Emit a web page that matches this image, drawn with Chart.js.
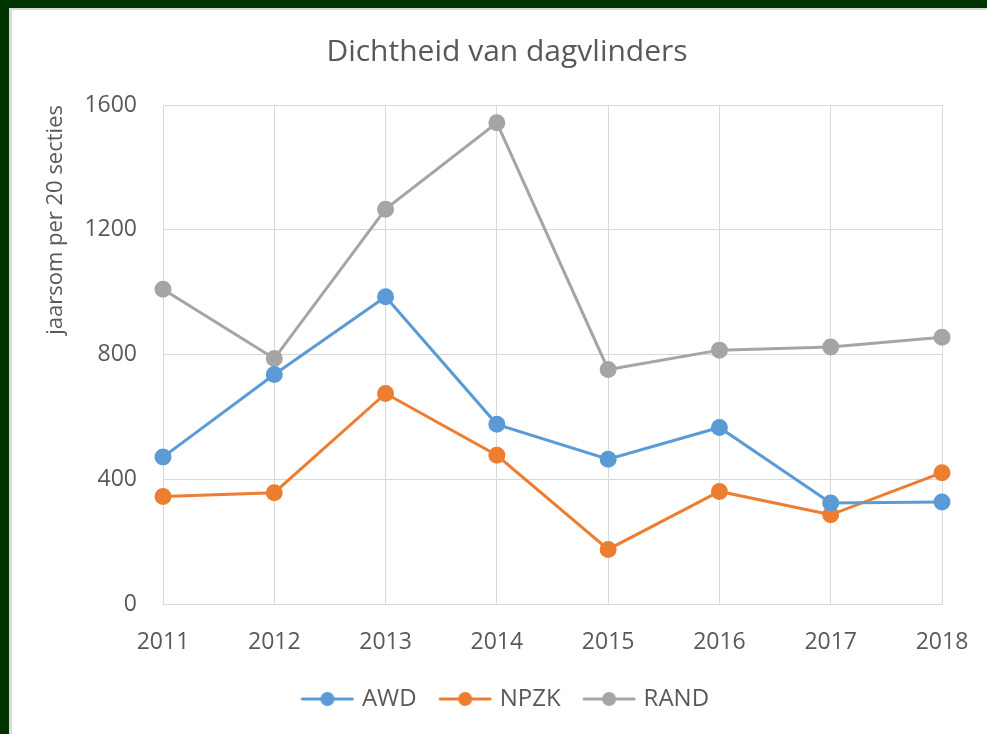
<!DOCTYPE html>
<html style="background:#ffffff;">
<head>
<meta charset="utf-8">
<script src="https://cdn.jsdelivr.net/npm/chart.js@4.4.1/dist/chart.umd.min.js"></script>
<style>
  html, body { margin: 0; padding: 0; background: #ffffff; overflow: hidden; width: 100%; height: 100%; }
  .bar { position: absolute; }
  #c { position: absolute; left: 12px; top: 10px; display: block; z-index: 2; }
  #lTop { left: 9px; top: 8px; width: 991px; height: 2px; background: #d9d9d9; z-index: 3; }
  #lLeft { left: 9px; top: 8px; width: 3px; height: 726px; background: #d9d9d9; z-index: 3; }
  #gTop { left: 0; top: 0; width: 1000px; height: 8px; background: #003300; z-index: 4; }
  #gLeft { left: 0; top: 0; width: 9px; height: 734px; background: #003300; z-index: 4; }
</style>
</head>
<body>
<canvas id="c" width="975" height="724"></canvas>
<div class="bar" id="lTop"></div>
<div class="bar" id="lLeft"></div>
<div class="bar" id="gTop"></div>
<div class="bar" id="gLeft"></div>
<script>
const categories = ['2011', '2012', '2013', '2014', '2015', '2016', '2017', '2018'];
const seriesNames = ['AWD', 'NPZK', 'RAND'];
const awd  = [471, 736, 985, 576, 464, 566, 324, 327];
const npzk = [345, 357, 675, 477, 175, 361, 286, 421];
const rand = [1009, 787, 1266, 1543, 752, 814, 824, 855];
const yTicks = [0, 400, 800, 1200, 1600];
const colors = ['#5B9BD5', '#ED7D31', '#A5A5A5'];
const chartTitle = 'Dichtheid van dagvlinders';
const yTitle = 'jaarsom per 20 secties';

const FONT = "'Open Sans', Lato, sans-serif";
const TXT = '#595959';

function legendIcon(color) {
  const c = document.createElement('canvas');
  c.width = 54; c.height = 16;
  const g = c.getContext('2d');
  g.strokeStyle = color; g.lineWidth = 3; g.lineCap = 'round';
  g.beginPath(); g.moveTo(2, 8); g.lineTo(52, 8); g.stroke();
  g.fillStyle = color;
  g.beginPath(); g.arc(27, 8, 7, 0, Math.PI * 2); g.fill();
  return c;
}
const icons = colors.map(legendIcon);

const datasets = [awd, npzk, rand].map((d, i) => ({
  label: seriesNames[i],
  data: d,
  borderColor: colors[i],
  backgroundColor: colors[i],
  pointBackgroundColor: colors[i],
  pointBorderColor: colors[i],
  borderWidth: 3,
  pointRadius: 7,
  pointHoverRadius: 7,
  tension: 0,
  fill: false
}));

new Chart(document.getElementById('c'), {
  type: 'line',
  data: { labels: categories, datasets: datasets },
  options: {
    responsive: false,
    animation: false,
    layout: { padding: { left: 60, right: 45, top: 0, bottom: 13 } },
    plugins: {
      title: {
        display: true,
        text: chartTitle,
        color: TXT,
        font: { family: FONT, size: 30, weight: 'normal' },
        padding: { top: 24, bottom: 35 }
      },
      legend: {
        position: 'bottom',
        labels: {
          usePointStyle: true,
          pointStyleWidth: 45,
          color: TXT,
          font: { family: FONT, size: 24 },
          padding: 26,
          generateLabels: (chart) => chart.data.datasets.map((ds, i) => ({
            text: ds.label,
            fillStyle: colors[i],
            strokeStyle: colors[i],
            fontColor: TXT,
            lineWidth: 0,
            pointStyle: icons[i],
            datasetIndex: i,
            hidden: false
          }))
        }
      },
      tooltip: { enabled: false }
    },
    scales: {
      x: {
        type: 'category',
        offset: false,
        grid: { color: '#d9d9d9', lineWidth: 1, drawTicks: false },
        border: { color: '#d9d9d9', width: 1 },
        ticks: { color: TXT, font: { family: FONT, size: 23 }, padding: 25, maxRotation: 0, autoSkip: false },
        afterFit: (s) => { s.height = 57; s.paddingLeft = 0; s.paddingRight = 0; }
      },
      y: {
        min: 0,
        max: 1600,
        afterBuildTicks: (s) => { s.ticks = yTicks.map(v => ({ value: v })); },
        grid: { color: '#d9d9d9', lineWidth: 1, drawTicks: false },
        border: { display: false },
        ticks: { color: TXT, font: { family: FONT, size: 23 }, padding: 26, callback: (v) => String(v) },
        title: {
          display: true,
          text: yTitle,
          color: TXT,
          align: 'end',
          font: { family: FONT, size: 22 },
          padding: { top: -29, bottom: 0 }
        },
        afterFit: (s) => { s.width = 91; }
      }
    }
  }
});
</script>
</body>
</html>
